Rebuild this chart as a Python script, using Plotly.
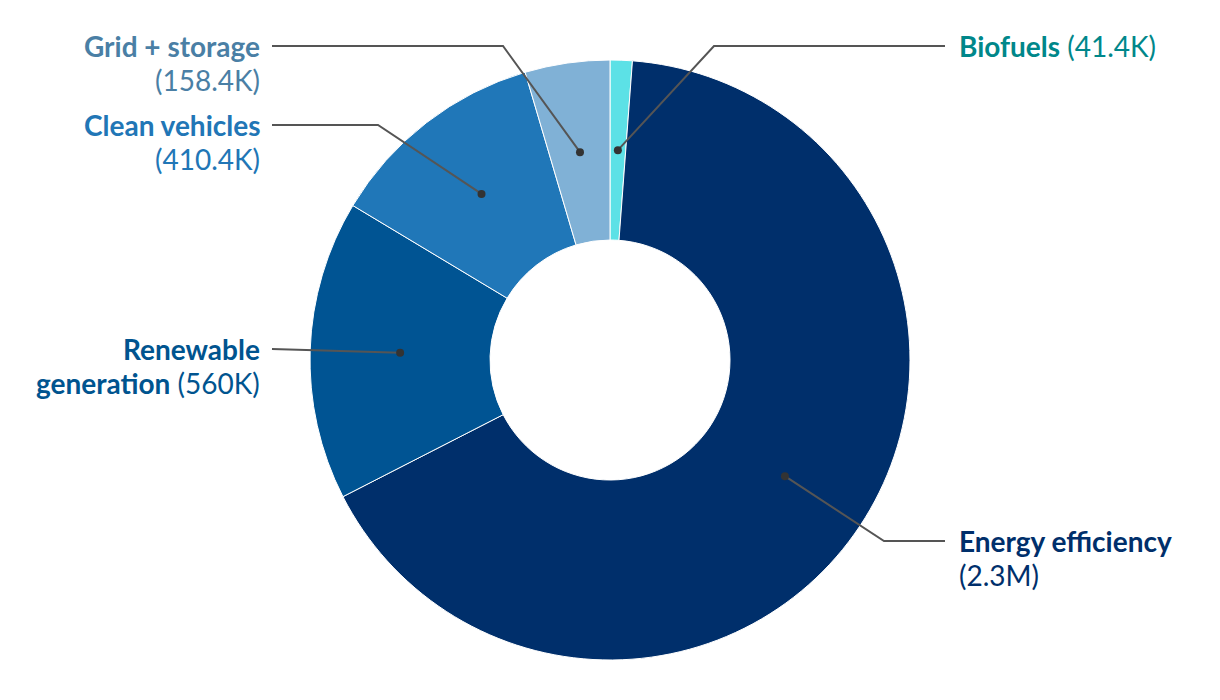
import math

import plotly.graph_objects as go

# data (thousands)
categories = ["Biofuels", "Energy efficiency", "Renewable generation", "Clean vehicles", "Grid + storage"]
values = [41.4, 2300, 560, 410.4, 158.4]
value_labels = ["41.4K", "2.3M", "560K", "410.4K", "158.4K"]

slice_colors = ["#5ce1e6", "#002f6b", "#005493", "#2077b8", "#80b1d6"]
text_colors = ["#00878a", "#002f6b", "#00548f", "#2176b6", "#4a7fa5"]

# page body has an 8px margin, so work in page pixels and shift
OFF = 8
W, H = 1220 - OFF, 700 - OFF
CX, CY, R = 610 - OFF, 360 - OFF, 300
FONT = "Lato"
FS = 28
LINE_GAP = 34

# label layout (page px): side, y of leader line, elbow x (None = straight), label lines
label_layout = {
    "Biofuels": ("right", 46, 714, ["<b>Biofuels</b> (41.4K)"]),
    "Energy efficiency": ("right", 541, 884, ["<b>Energy efficiency</b>", "(2.3M)"]),
    "Renewable generation": ("left", 349, None, ["<b>Renewable</b>", "<b>generation</b> (560K)"]),
    "Clean vehicles": ("left", 125, 378, ["<b>Clean vehicles</b>", "(410.4K)"]),
    "Grid + storage": ("left", 46, 503, ["<b>Grid + storage</b>", "(158.4K)"]),
}

fig = go.Figure()

fig.add_trace(
    go.Pie(
        labels=categories,
        values=values,
        sort=False,
        direction="clockwise",
        rotation=0,
        hole=0.4,
        marker=dict(colors=slice_colors, line=dict(color="white", width=1)),
        textinfo="none",
        hoverinfo="label+value",
        domain=dict(
            x=[(CX - R) / W, (CX + R) / W],
            y=[(H - (CY + R)) / H, (H - (CY - R)) / H],
        ),
        showlegend=False,
    )
)

shapes = []
annotations = []
total = sum(values)
cum = 0.0
for i, (cat, val) in enumerate(zip(categories, values)):
    mid = (cum + val / 2) / total * 2 * math.pi
    cum += val
    dx = CX + 0.7 * R * math.sin(mid)
    dy = CY - 0.7 * R * math.cos(mid)
    side, ly, ex, lines = label_layout[cat]
    ly -= OFF
    end_x = (945 if side == "right" else 272) - OFF
    if ex is None:
        path = f"M {dx},{dy} L {end_x},{ly}"
    else:
        path = f"M {dx},{dy} L {ex - OFF},{ly} L {end_x},{ly}"
    shapes.append(
        dict(type="path", path=path, xref="x", yref="y", layer="above",
             line=dict(color="#555555", width=2))
    )
    shapes.append(
        dict(type="circle", xref="x", yref="y", xsizemode="pixel", ysizemode="pixel",
             xanchor=dx, yanchor=dy, x0=-4, x1=4, y0=-4, y1=4, layer="above",
             fillcolor="#333333", line=dict(width=0))
    )
    tx = (957 if side == "right" else 262) - OFF
    for j, txt in enumerate(lines):
        annotations.append(
            dict(
                x=tx, y=ly + j * LINE_GAP, xref="x", yref="y", text=txt,
                showarrow=False, xanchor="left" if side == "right" else "right",
                yanchor="middle", align="left" if side == "right" else "right",
                font=dict(family=FONT, size=FS, color=text_colors[i]),
            )
        )

fig.update_layout(
    width=W,
    height=H,
    margin=dict(l=0, r=0, t=0, b=0),
    paper_bgcolor="white",
    plot_bgcolor="white",
    xaxis=dict(range=[0, W], visible=False, fixedrange=True),
    yaxis=dict(range=[H, 0], visible=False, fixedrange=True),
    shapes=shapes,
    annotations=annotations,
)

fig.write_html("out.html")
